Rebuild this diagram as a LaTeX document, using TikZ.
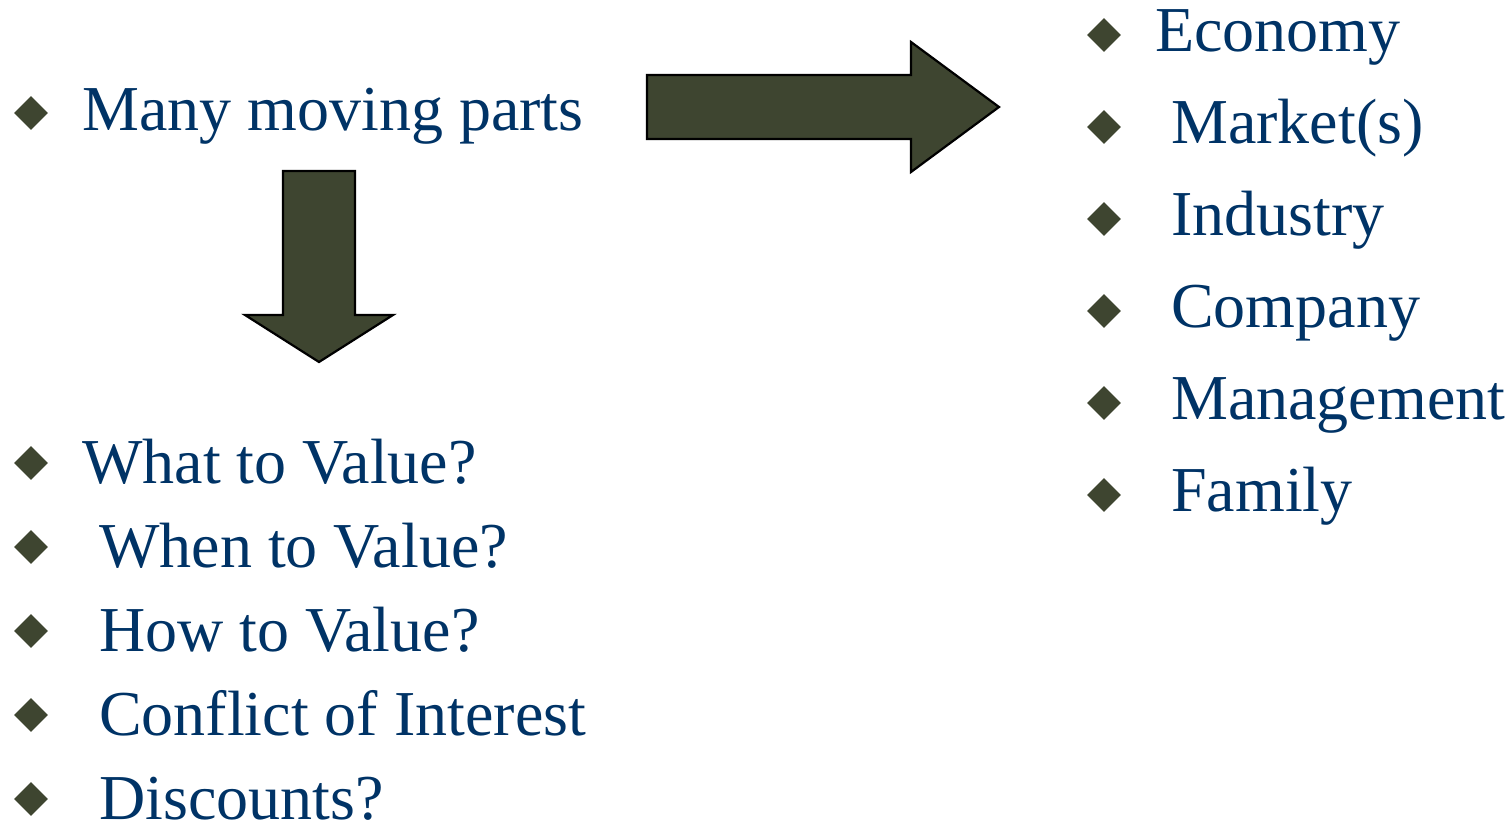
\documentclass[tikz,border=0pt]{standalone}
\usepackage{fontspec}
\setmainfont{Liberation Serif}
\usetikzlibrary{shapes.geometric}
\definecolor{navy}{RGB}{0,51,102}
\definecolor{olive}{RGB}{62,69,48}
\tikzset{
  bullet/.style={diamond,fill=olive,inner sep=0pt,minimum width=34pt,minimum height=34pt},
  item/.style={anchor=base west,inner sep=0pt,text=navy,font=\fontsize{64}{76}\selectfont},
  blockarrow/.style={fill=olive,draw=black,line width=2.2pt,line join=miter}
}
\begin{document}
\begin{tikzpicture}[x=1pt,y=-1pt]
\useasboundingbox (0,0) rectangle (1512,819);

% heading
\node[bullet] (b0) at (31,113) {};
\node[item] (t0) at (82,130) {Many moving parts};

% arrow to the right-hand list
\draw[blockarrow] (647,75) -- (911,75) -- (911,42) -- (999,107) -- (911,172) -- (911,139) -- (647,139) -- cycle;

% arrow down to the lower list
\draw[blockarrow] (283,171) -- (355,171) -- (355,315) -- (393,315) -- (319,362) -- (245,315) -- (283,315) -- cycle;

% lower list
\node[bullet] (l1) at (31,463) {};
\node[item] (lt1) at (82,483) {What to Value?};
\node[bullet] (l2) at (31,547) {};
\node[item] (lt2) at (99,567) {When to Value?};
\node[bullet] (l3) at (31,631) {};
\node[item] (lt3) at (99,651) {How to Value?};
\node[bullet] (l4) at (31,715) {};
\node[item] (lt4) at (99,735) {Conflict of Interest};
\node[bullet] (l5) at (31,799) {};
\node[item] (lt5) at (99,819) {Discounts?};

% right-hand list
\node[bullet] (r1) at (1104,35) {};
\node[item] (rt1) at (1155,51) {Economy};
\node[bullet] (r2) at (1104,127) {};
\node[item] (rt2) at (1171,143) {Market(s)};
\node[bullet] (r3) at (1104,219) {};
\node[item] (rt3) at (1171,235) {Industry};
\node[bullet] (r4) at (1104,311) {};
\node[item] (rt4) at (1171,327) {Company};
\node[bullet] (r5) at (1104,403) {};
\node[item] (rt5) at (1171,419) {Management};
\node[bullet] (r6) at (1104,495) {};
\node[item] (rt6) at (1171,511) {Family};
\end{tikzpicture}
\end{document}
